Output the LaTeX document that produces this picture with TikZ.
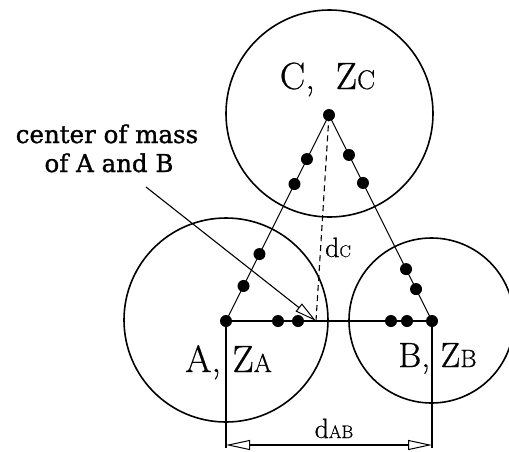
\documentclass[tikz,border=0pt]{standalone}
\usepackage{fontspec}
\newfontfamily\labfont[FakeBold=1.2]{DejaVu Serif}
\newfontfamily\lmfont[FakeBold=0.6]{Latin Modern Roman}
\usetikzlibrary{arrows.meta,calc}
\newcommand\fsz[2]{{\fontsize{#1}{#1}\selectfont #2}}
\begin{document}
\begin{tikzpicture}[x=1pt,y=-1pt,
  dot/.style={circle,fill=black,inner sep=0pt,minimum size=12pt},
  ring/.style={draw=black,line width=1.6pt},
  thinline/.style={draw=black,line width=1.1pt},
  openhead/.style={thinline,-{Triangle[open,length=22pt,width=10pt,line width=1pt]}},
  dimline/.style={thinline,{Triangle[open,length=24pt,width=10pt,line width=1pt]}-{Triangle[open,length=24pt,width=10pt,line width=1pt]}},
  big/.style={anchor=base,inner sep=0pt,font=\lmfont\fontsize{38pt}{38pt}\selectfont},
  mid/.style={anchor=base,inner sep=0pt,font=\lmfont\fontsize{28pt}{28pt}\selectfont},
  note/.style={anchor=base,inner sep=0pt,font=\labfont\fontsize{24.5pt}{29pt}\selectfont}]
\useasboundingbox (0,0) rectangle (509,451);
% centres
\coordinate (A0) at (226,321);
\coordinate (B0) at (432,321);
\coordinate (C0) at (329,115);
\coordinate (M) at (316,321);
\coordinate (L) at (146,187);
\coordinate (Ad) at (226,448);
\coordinate (Bd) at (432,448);
\coordinate (Al) at (226,445);
\coordinate (Bl) at (432,445);
% circles
\draw[ring] (226,320) circle[radius=102pt];
\draw[ring] (431.5,320.5) circle[radius=82.5pt];
\draw[ring] (329.5,113.5) circle[radius=103.5pt];
% triangle sides
\draw[thinline] (A0) -- (C0);
\draw[thinline] (B0) -- (C0);
\draw[thinline] (A0) -- (B0);
% dashed
\draw[thinline,dash pattern=on 6pt off 4pt] (M) -- (C0);
% dimension
\draw[thinline] (A0) -- (Ad);
\draw[thinline] (B0) -- (Bd);
\draw[dimline] (Al) -- (Bl);
% leader
\draw[openhead] (L) -- (M);
% dots
\node[dot] (A) at (A0) {};
\node[dot] (B) at (B0) {};
\node[dot] (C) at (C0) {};
\node[dot] (ac1) at ($(A0)!0.17!(C0)$) {};
\node[dot] (ac2) at ($(A0)!0.325!(C0)$) {};
\node[dot] (ac3) at ($(A0)!0.665!(C0)$) {};
\node[dot] (ac4) at ($(A0)!0.786!(C0)$) {};
\node[dot] (bc1) at ($(B0)!0.155!(C0)$) {};
\node[dot] (bc2) at ($(B0)!0.252!(C0)$) {};
\node[dot] (bc3) at ($(B0)!0.67!(C0)$) {};
\node[dot] (bc4) at ($(B0)!0.806!(C0)$) {};
\node[dot] (ab1) at (278,321) {};
\node[dot] (ab2) at (298,321) {};
\node[dot] (ab3) at (391,321) {};
\node[dot] (ab4) at (407,321) {};
% labels
\node[big] (lc) at (327.5,89) {C,\hspace{0.55em}Z\fsz{27pt}{C}};
\node[big] (la) at (228.5,372) {A, Z\fsz{26pt}{A}};
\node[big,font=\lmfont\fontsize{35pt}{35pt}\selectfont] (lb) at (437.5,367) {B, Z\fsz{25pt}{B}};
\node[mid] (ldc) at (338,257) {d\fsz{17pt}{C}};
\node[mid] (ldab) at (334,438) {d\fsz{18pt}{AB}};
\node[note] (n1) at (107,143) {center of mass};
\node[note] (n2) at (109,172) {of A and B};
\end{tikzpicture}
\end{document}
